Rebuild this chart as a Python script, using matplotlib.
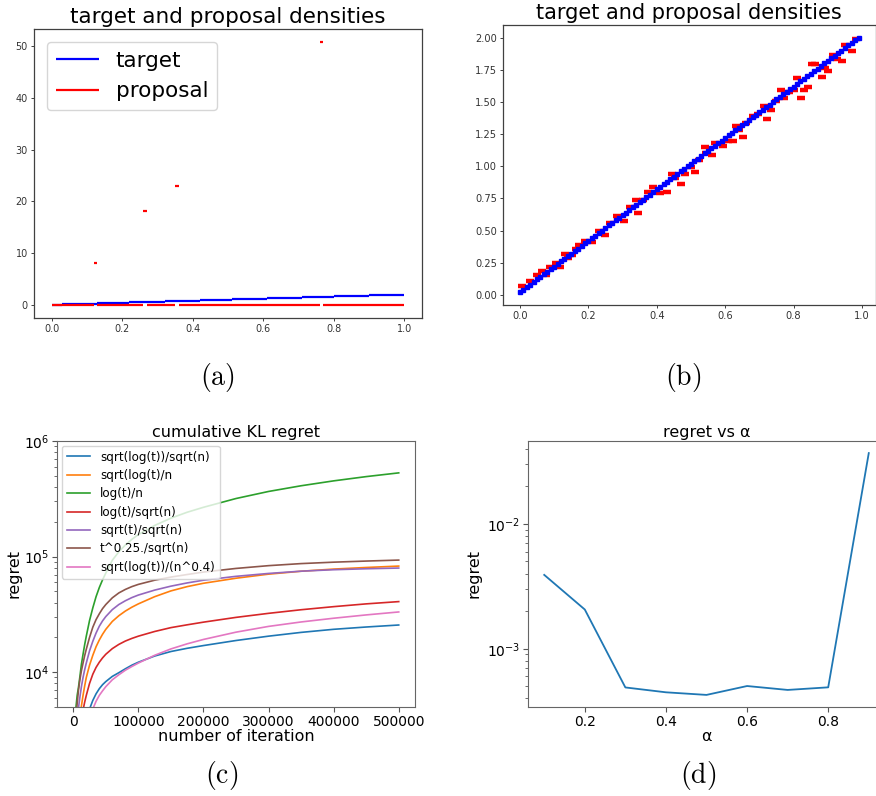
import matplotlib
matplotlib.use("Agg")
import matplotlib.pyplot as plt
import numpy as np

plt.rcParams['mathtext.fontset'] = 'dejavusans'

# --- (a)/(b): target and proposal densities on 100 bins of width 0.01 ---
bin_left = np.linspace(0.0, 0.99, 100)
bin_width = 0.01

target = [0.02, 0.04, 0.06, 0.08, 0.10, 0.12, 0.14, 0.16, 0.18, 0.20,
          0.22, 0.24, 0.26, 0.28, 0.30, 0.32, 0.34, 0.36, 0.38, 0.40,
          0.42, 0.44, 0.46, 0.48, 0.50, 0.52, 0.54, 0.56, 0.58, 0.60,
          0.62, 0.64, 0.66, 0.68, 0.70, 0.72, 0.74, 0.76, 0.78, 0.80,
          0.82, 0.84, 0.86, 0.88, 0.90, 0.92, 0.94, 0.96, 0.98, 1.00,
          1.02, 1.04, 1.06, 1.08, 1.10, 1.12, 1.14, 1.16, 1.18, 1.20,
          1.22, 1.24, 1.26, 1.28, 1.30, 1.32, 1.34, 1.36, 1.38, 1.40,
          1.42, 1.44, 1.46, 1.48, 1.50, 1.52, 1.54, 1.56, 1.58, 1.60,
          1.62, 1.64, 1.66, 1.68, 1.70, 1.72, 1.74, 1.76, 1.78, 1.80,
          1.82, 1.84, 1.86, 1.88, 1.90, 1.92, 1.94, 1.96, 1.98, 2.00]

# proposal in (a): zero everywhere except a few bins
spike_bins = [12, 26, 35, 76]
spike_vals = [8.0, 18.1, 23.0, 50.8]

# proposal in (b): fitted density values
prop_x = [0.007, 0.029, 0.051, 0.064, 0.075, 0.087, 0.104, 0.116, 0.133, 0.140,
          0.152, 0.164, 0.174, 0.190, 0.212, 0.230, 0.250, 0.262, 0.284, 0.304,
          0.323, 0.338, 0.345, 0.359, 0.374, 0.390, 0.410, 0.430, 0.444, 0.453,
          0.470, 0.482, 0.501, 0.513, 0.523, 0.540, 0.545, 0.561, 0.571, 0.593,
          0.608, 0.622, 0.632, 0.641, 0.653, 0.661, 0.682, 0.696, 0.714, 0.723,
          0.733, 0.750, 0.764, 0.771, 0.786, 0.802, 0.810, 0.822, 0.831, 0.843,
          0.853, 0.863, 0.882, 0.892, 0.902, 0.914, 0.926, 0.943, 0.950, 0.972,
          0.982]
prop_y = [0.069, 0.108, 0.154, 0.185, 0.152, 0.219, 0.244, 0.219, 0.316, 0.283,
          0.308, 0.360, 0.390, 0.420, 0.410, 0.496, 0.468, 0.560, 0.610, 0.578,
          0.686, 0.738, 0.635, 0.738, 0.797, 0.840, 0.790, 0.797, 0.938, 0.905,
          0.866, 0.938, 0.997, 0.956, 1.049, 1.152, 1.105, 1.087, 1.182, 1.157,
          1.195, 1.200, 1.311, 1.285, 1.229, 1.334, 1.393, 1.406, 1.470, 1.370,
          1.437, 1.504, 1.591, 1.535, 1.581, 1.591, 1.689, 1.535, 1.594, 1.620,
          1.794, 1.794, 1.697, 1.766, 1.743, 1.864, 1.833, 1.817, 1.946, 1.897,
          1.987]

# --- (c): cumulative KL regret for several step-size schedules ---
iters = [2000, 4000, 6000, 8000, 10000, 12500, 15000, 17500, 20000, 25000,
         30000, 35000, 40000, 45000, 50000, 60000, 70000, 80000, 90000, 100000,
         125000, 150000, 175000, 200000, 250000, 300000, 350000, 400000, 450000, 500000]
schedules = ['sqrt(log(t))/sqrt(n)', 'sqrt(log(t)/n', 'log(t)/n', 'log(t)/sqrt(n)',
             'sqrt(t)/sqrt(n)', 't^0.25./sqrt(n)', 'sqrt(log(t))/(n^0.4)']
r_sqrtlog_sqrtn = [200, 450, 750, 1100, 1500, 2000, 2600, 3200, 3800, 4800,
                   5700, 6500, 7200, 7800, 8300, 9200, 9900, 10700, 11500, 12200,
                   13800, 15100, 16100, 17000, 18800, 20500, 22100, 23500, 24600, 25600]
r_sqrt_log_n = [600, 1500, 2400, 3200, 4000, 5100, 6300, 7600, 9000, 11500,
                14000, 16600, 19000, 21300, 23500, 27500, 30800, 33800, 36500, 39000,
                45000, 50500, 55000, 58800, 65000, 70500, 74700, 78000, 80500, 82800]
r_log_n = [2600, 4900, 6300, 7400, 9000, 11700, 14300, 17300, 20500, 28000,
           36000, 45000, 54000, 63000, 72000, 93000, 110000, 126000, 141000, 155000,
           186000, 215000, 242000, 267000, 318000, 366000, 410000, 452000, 492000, 530000]
r_log_sqrtn = [500, 1000, 1600, 2200, 2900, 3800, 4700, 5500, 6300, 8000,
               9600, 11000, 12200, 13300, 14300, 16000, 17400, 18600, 19600, 20500,
               22500, 24300, 25700, 27100, 29800, 32300, 34700, 36900, 39000, 40800]
r_sqrtt_sqrtn = [1200, 2500, 3700, 4900, 6000, 7500, 9000, 10500, 12000, 15300,
                 18500, 21800, 25000, 27800, 30300, 34800, 38500, 41500, 44200, 46500,
                 51300, 55500, 59200, 62500, 67500, 71500, 74800, 77000, 78500, 79600]
r_t025_sqrtn = [1800, 3800, 5400, 7000, 8500, 10300, 12000, 13900, 15800, 20000,
                24500, 28500, 32000, 35500, 38500, 44000, 48500, 52000, 55000, 57500,
                62500, 66500, 70000, 73500, 79000, 83500, 87000, 89500, 91500, 93300]
r_sqrtlog_n04 = [150, 300, 500, 750, 1000, 1400, 1800, 2300, 2800, 3800,
                 4800, 5600, 6300, 6900, 7500, 8600, 9500, 10400, 11200, 12000,
                 14000, 15900, 17600, 19200, 22200, 24900, 27200, 29300, 31300, 33200]

# --- (d): regret against alpha ---
alphas = [0.1, 0.2, 0.3, 0.4, 0.5, 0.6, 0.7, 0.8, 0.9]
regret_alpha = [3.9e-3, 2.06e-3, 4.9e-4, 4.48e-4, 4.27e-4, 5.03e-4, 4.68e-4, 4.91e-4, 3.68e-2]

W, H = 876, 796
fig = plt.figure(figsize=(W / 100, H / 100), dpi=100)


def box(left, top, right, bottom):
    return [left / W, 1 - bottom / H, (right - left) / W, (bottom - top) / H]


def style_small(ax, size):
    for s in ax.spines.values():
        s.set_color('#404040')
        s.set_linewidth(0.9)
    ax.tick_params(labelsize=size, length=2.5, width=0.7, color='#404040',
                   labelcolor='#333333', pad=2)


# (a)
ax = fig.add_axes(box(34, 29, 422, 318))
prop_a = np.zeros(len(bin_left))
prop_a[spike_bins] = spike_vals
ax.hlines(target, bin_left, bin_left + bin_width, colors='b', lw=1.6, label='target')
ax.hlines(prop_a, bin_left, bin_left + bin_width, colors='r', lw=1.6, label='proposal')
ax.set_title('target and proposal densities', fontsize=15.5, pad=4)
ax.legend(loc='upper left', fontsize=15.5, handlelength=2.0, borderaxespad=0.6)
ax.set_yticks([0, 10, 20, 30, 40, 50])
style_small(ax, 6.9)

# (b)
ax = fig.add_axes(box(503, 25, 875.5, 305))
ax.plot(prop_x, prop_y, ls='none', marker='_', ms=6, mew=3.2, color='r')
ax.plot(bin_left, target, ls='none', marker='s', ms=2.6, color='b')
ax.set_title('target and proposal densities', fontsize=15, pad=4)
ax.set_yticks([0, 0.25, 0.5, 0.75, 1.0, 1.25, 1.5, 1.75, 2.0])
ax.yaxis.set_major_formatter(matplotlib.ticker.FormatStrFormatter('%.2f'))
style_small(ax, 7.1)

# (c)
ax = fig.add_axes(box(57, 441, 415, 707))
series_c = [r_sqrtlog_sqrtn, r_sqrt_log_n, r_log_n, r_log_sqrtn,
            r_sqrtt_sqrtn, r_t025_sqrtn, r_sqrtlog_n04]
for name, vals in zip(schedules, series_c):
    ax.plot(iters, vals, lw=1.2, label=name)
ax.set_yscale('log')
ax.set_ylim(5000, 1e6)
ax.set_xlim(-25000, 525000)
ax.set_xticks([0, 100000, 200000, 300000, 400000, 500000])
ax.set_title('cumulative KL regret', fontsize=11.5, pad=3)
ax.set_xlabel('number of iteration', fontsize=11.5, labelpad=0)
ax.set_ylabel('regret', fontsize=11.5, labelpad=2)
ax.tick_params(labelsize=10, pad=2)
ax.tick_params(which='both', color='#555555')
for s in ax.spines.values():
    s.set_color('#666666')
ax.legend(loc='upper left', fontsize=8.6, borderaxespad=0.4, labelspacing=0.45)

# (d)
ax = fig.add_axes(box(528, 441, 885, 707))
ax.plot(alphas, regret_alpha, lw=1.3, color='tab:blue')
ax.set_yscale('log')
ax.set_title('regret vs α', fontsize=11.5, pad=3)
ax.set_xlabel('α', fontsize=11.5, labelpad=0)
ax.set_ylabel('regret', fontsize=11.5)
ax.set_xticks([0.2, 0.4, 0.6, 0.8])
ax.tick_params(labelsize=10, pad=2)
ax.tick_params(which='both', color='#555555')
for s in ax.spines.values():
    s.set_color('#666666')

# sub-figure captions
for lab, x, y in [('(a)', 217, 378), ('(b)', 683, 378), ('(c)', 222, 775), ('(d)', 698, 775)]:
    fig.text(x / W, 1 - y / H, r'$\mathrm{' + lab + '}$', fontsize=20,
             ha='center', va='center', math_fontfamily='cm')

fig.savefig('out.png', dpi=100)
